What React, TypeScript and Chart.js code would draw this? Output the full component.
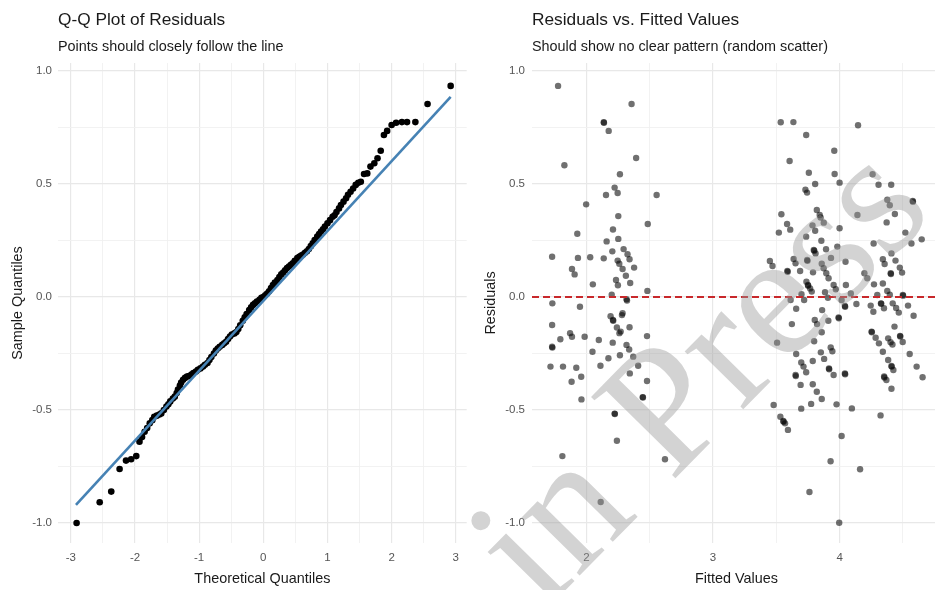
import React, { useEffect, useRef } from "react";
import { Chart, registerables } from "chart.js";

Chart.register(...registerables);

// ---------- Q-Q plot data ----------
const qqTheoretical = [
  -2.91, -2.55, -2.37, -2.24, -2.14, -2.06, -1.98, -1.93, -1.89, -1.85, -1.81, -1.77, -1.73, -1.7, -1.66, -1.62,
  -1.59, -1.55, -1.51, -1.48, -1.45, -1.41, -1.38, -1.35, -1.33, -1.3, -1.28, -1.25, -1.22, -1.19, -1.16, -1.12,
  -1.09, -1.05, -1.02, -0.98, -0.94, -0.91, -0.87, -0.84, -0.81, -0.77, -0.74, -0.71, -0.68, -0.64, -0.61, -0.58,
  -0.55, -0.52, -0.49, -0.45, -0.42, -0.39, -0.36, -0.32, -0.29, -0.26, -0.22, -0.19, -0.16, -0.13, -0.1, -0.06,
  -0.03, 0.0, 0.03, 0.06, 0.09, 0.12, 0.15, 0.18, 0.22, 0.25, 0.28, 0.31, 0.34, 0.37, 0.4, 0.43, 0.46, 0.49, 0.53,
  0.56, 0.59, 0.62, 0.65, 0.68, 0.71, 0.74, 0.77, 0.8, 0.84, 0.87, 0.9, 0.93, 0.96, 1.0, 1.04, 1.08, 1.11, 1.14,
  1.18, 1.21, 1.25, 1.29, 1.32, 1.36, 1.4, 1.44, 1.48, 1.52, 1.57, 1.62, 1.67, 1.73, 1.78, 1.83, 1.88, 1.93, 2.0,
  2.07, 2.16, 2.24, 2.37, 2.56, 2.92,
];
const qqSample = [
  -1.0, -0.908, -0.861, -0.761, -0.724, -0.718, -0.704, -0.64, -0.62, -0.596, -0.58, -0.559, -0.545, -0.53, -0.525,
  -0.52, -0.515, -0.5, -0.485, -0.475, -0.462, -0.449, -0.441, -0.425, -0.41, -0.392, -0.378, -0.366, -0.358, -0.352,
  -0.35, -0.343, -0.336, -0.33, -0.322, -0.316, -0.308, -0.3, -0.292, -0.279, -0.266, -0.25, -0.237, -0.228, -0.22,
  -0.212, -0.205, -0.198, -0.186, -0.175, -0.166, -0.161, -0.155, -0.142, -0.125, -0.105, -0.09, -0.075, -0.058,
  -0.046, -0.035, -0.028, -0.02, -0.012, -0.004, 0.0, 0.008, 0.015, 0.025, 0.04, 0.053, 0.064, 0.075, 0.088, 0.1,
  0.108, 0.118, 0.128, 0.135, 0.142, 0.149, 0.16, 0.172, 0.178, 0.183, 0.188, 0.196, 0.202, 0.212, 0.225, 0.238,
  0.252, 0.267, 0.278, 0.29, 0.3, 0.312, 0.326, 0.34, 0.355, 0.362, 0.376, 0.392, 0.407, 0.422, 0.437, 0.452, 0.466,
  0.48, 0.496, 0.505, 0.51, 0.544, 0.547, 0.577, 0.592, 0.614, 0.647, 0.717, 0.735, 0.761, 0.771, 0.774, 0.774,
  0.774, 0.854, 0.934,
];
const qqLineX = [-2.92, 2.92];
const qqLineY = [-0.92, 0.886];

// ---------- Residuals vs fitted data: [fitted, residual] ----------
const residualPoints: [number, number][] = [
  // left cluster
  [1.775, 0.934], [2.356, 0.854], [2.136, 0.773], [2.138, 0.771], [2.175, 0.735], [1.825, 0.583], [2.392, 0.615],
  [2.264, 0.543], [2.222, 0.484], [2.154, 0.451], [2.246, 0.46], [2.554, 0.451], [1.997, 0.41], [2.251, 0.358],
  [2.484, 0.323], [1.927, 0.28], [2.209, 0.299], [2.159, 0.246], [2.251, 0.257], [1.728, 0.178], [1.932, 0.173],
  [2.029, 0.176], [2.136, 0.171], [2.204, 0.202], [2.293, 0.212], [2.324, 0.189], [2.34, 0.167], [2.246, 0.161],
  [2.259, 0.147], [2.285, 0.124], [2.376, 0.13], [1.885, 0.124], [1.906, 0.1], [2.311, 0.094], [2.233, 0.075],
  [2.248, 0.052], [2.05, 0.056], [2.345, 0.062], [2.481, 0.027], [2.199, 0.01], [2.316, -0.01], [2.32, -0.016],
  [1.73, -0.028], [1.948, -0.043], [1.728, -0.124], [2.19, -0.085], [2.209, -0.102], [2.211, -0.105], [2.285, -0.072],
  [2.28, -0.08], [2.24, -0.135], [2.26, -0.16], [2.27, -0.153], [2.34, -0.134], [2.478, -0.173], [1.728, -0.22],
  [1.73, -0.224], [1.793, -0.187], [1.87, -0.16], [1.885, -0.176], [1.985, -0.176], [2.097, -0.19], [2.207, -0.202],
  [2.316, -0.212], [2.337, -0.232], [2.047, -0.242], [1.715, -0.308], [1.814, -0.308], [1.919, -0.313],
  [1.958, -0.353], [1.882, -0.375], [2.11, -0.304], [2.173, -0.271], [2.264, -0.258], [2.369, -0.264],
  [2.408, -0.304], [2.342, -0.338], [2.478, -0.372], [1.96, -0.453], [2.444, -0.443], [2.446, -0.445],
  [2.222, -0.516], [2.224, -0.518], [2.24, -0.636], [1.809, -0.704], [2.62, -0.718], [2.112, -0.907],
  // right cluster, upper half
  [3.535, 0.773], [3.635, 0.774], [3.736, 0.717], [4.146, 0.76], [3.958, 0.647], [3.605, 0.602], [3.757, 0.55],
  [3.961, 0.544], [3.807, 0.5], [4.0, 0.506], [3.73, 0.475], [3.743, 0.462], [4.261, 0.543], [4.308, 0.497],
  [4.408, 0.497], [4.377, 0.43], [4.397, 0.406], [4.578, 0.425], [4.58, 0.422], [4.437, 0.367], [4.372, 0.33],
  [4.141, 0.363], [3.54, 0.366], [3.585, 0.323], [3.61, 0.298], [3.52, 0.285], [3.82, 0.385], [3.843, 0.363],
  [3.85, 0.352], [3.875, 0.329], [3.786, 0.317], [3.807, 0.293], [4.0, 0.304], [3.736, 0.267], [3.856, 0.249],
  [3.796, 0.208], [3.8, 0.205], [3.81, 0.193], [3.893, 0.211], [3.982, 0.223], [3.744, 0.164], [3.746, 0.16],
  [3.637, 0.168], [3.652, 0.149], [3.449, 0.159], [3.47, 0.137], [3.587, 0.115], [3.59, 0.112], [3.688, 0.115],
  [3.79, 0.109], [3.859, 0.147], [3.874, 0.127], [3.895, 0.105], [3.913, 0.083], [3.932, 0.173], [4.047, 0.156],
  [3.738, 0.068], [3.75, 0.053], [3.752, 0.05], [3.767, 0.038], [3.78, 0.024], [3.953, 0.053], [3.97, 0.034],
  [4.05, 0.053], [3.885, 0.021], [3.699, 0.012], [3.908, -0.003], [4.089, 0.016], [4.269, 0.237], [4.342, 0.167],
  [4.356, 0.146], [4.41, 0.193], [4.442, 0.161], [4.476, 0.13], [4.494, 0.108], [4.404, 0.105], [4.406, 0.102],
  [4.52, 0.285], [4.568, 0.237], [4.649, 0.255], [4.196, 0.105], [4.219, 0.083], [4.272, 0.056], [4.342, 0.06],
  [4.298, 0.009], [4.377, 0.027], [4.397, 0.01], [4.5, 0.009], [4.502, 0.006],
  // right cluster, lower half
  [3.613, -0.013], [3.657, -0.052], [3.72, -0.013], [4.016, -0.013], [4.133, -0.031], [4.042, -0.04],
  [4.044, -0.043], [3.862, -0.058], [3.623, -0.12], [3.804, -0.102], [3.822, -0.12], [3.911, -0.105],
  [3.992, -0.09], [3.994, -0.094], [3.859, -0.156], [3.799, -0.196], [3.506, -0.202], [3.657, -0.252],
  [3.852, -0.245], [3.878, -0.274], [3.93, -0.223], [3.943, -0.24], [3.788, -0.283], [3.697, -0.29],
  [3.715, -0.308], [3.736, -0.333], [3.652, -0.345], [3.654, -0.35], [3.916, -0.316], [3.918, -0.32],
  [3.953, -0.345], [4.042, -0.338], [4.044, -0.342], [3.692, -0.389], [3.788, -0.386], [3.82, -0.419],
  [3.859, -0.451], [3.775, -0.473], [3.697, -0.494], [3.976, -0.475], [4.097, -0.493], [3.479, -0.478],
  [3.532, -0.53], [3.555, -0.549], [3.558, -0.552], [3.569, -0.559], [3.592, -0.588], [4.016, -0.615],
  [4.324, -0.524], [3.929, -0.727], [4.162, -0.762], [3.762, -0.863], [3.997, -0.999], [4.246, -0.038],
  [4.267, -0.065], [4.327, -0.028], [4.329, -0.03], [4.351, -0.05], [4.42, -0.028], [4.447, -0.049],
  [4.468, -0.069], [4.541, -0.038], [4.585, -0.083], [4.253, -0.153], [4.255, -0.156], [4.285, -0.18],
  [4.311, -0.205], [4.342, -0.242], [4.384, -0.183], [4.403, -0.2], [4.418, -0.21], [4.434, -0.131],
  [4.478, -0.172], [4.48, -0.175], [4.499, -0.199], [4.384, -0.279], [4.41, -0.305], [4.412, -0.308],
  [4.425, -0.323], [4.352, -0.352], [4.354, -0.356], [4.37, -0.367], [4.41, -0.406], [4.554, -0.252],
  [4.609, -0.308], [4.656, -0.355],
];
const zeroLineY = 0;

// ---------- axis ranges ----------
const yRange = [-1.0885, 1.0354];
const qqXRange = [-3.2, 3.17];
const fittedXRange = [1.569, 4.8];

// ---------- texts ----------
const qqTitle = "Q-Q Plot of Residuals";
const qqSubtitle = "Points should closely follow the line";
const qqXLabel = "Theoretical Quantiles";
const qqYLabel = "Sample Quantiles";
const rvTitle = "Residuals vs. Fitted Values";
const rvSubtitle = "Should show no clear pattern (random scatter)";
const rvXLabel = "Fitted Values";
const rvYLabel = "Residuals";
const watermark = "in Press";

const SANS = "'Liberation Sans', Arial, Helvetica, sans-serif";
const SERIF = "'Liberation Serif', 'Times New Roman', 'DejaVu Serif', serif";

const isMajor = (v: number, step: number) => Math.abs(v / step - Math.round(v / step)) < 1e-6;

function textPlugin(cfg: { title: string; subtitle: string; xLabel: string; yLabel: string; yLabelX: number }) {
  return {
    id: "texts",
    afterDraw(chart: any) {
      const { ctx, chartArea } = chart;
      ctx.save();
      ctx.fillStyle = "#1a1a1a";
      ctx.textAlign = "left";
      ctx.textBaseline = "alphabetic";
      ctx.font = `17.3px ${SANS}`;
      ctx.fillText(cfg.title, chartArea.left, 25);
      ctx.font = `14.4px ${SANS}`;
      ctx.fillText(cfg.subtitle, chartArea.left, 51);
      ctx.textAlign = "center";
      ctx.fillText(cfg.xLabel, (chartArea.left + chartArea.right) / 2, 583);
      ctx.translate(cfg.yLabelX, (chartArea.top + chartArea.bottom) / 2);
      ctx.rotate(-Math.PI / 2);
      ctx.fillText(cfg.yLabel, 0, 0);
      ctx.restore();
    },
  };
}

const watermarkPlugin = {
  id: "watermark",
  afterDraw(chart: any) {
    const { ctx } = chart;
    ctx.save();
    ctx.translate(72, 614);
    ctx.rotate((-45.5 * Math.PI) / 180);
    ctx.font = `179px ${SERIF}`;
    ctx.fillStyle = "rgba(150,150,150,0.42)";
    ctx.textAlign = "left";
    ctx.textBaseline = "alphabetic";
    ctx.fillText(watermark, 0, 0);
    ctx.restore();
  },
};

function makeScales(xRange: number[], padTicks = 6) {
  const gridColor = (step: number) => (c: any) => (isMajor(c.tick.value, step) ? "#e8e8e8" : "#f1f1f1");
  const gridWidth = (step: number) => (c: any) => (isMajor(c.tick.value, step) ? 1.2 : 0.9);
  return {
    x: {
      type: "linear",
      min: xRange[0],
      max: xRange[1],
      afterFit: (s: any) => {
        s.height = 30;
      },
      border: { display: false },
      grid: { color: gridColor(1), lineWidth: gridWidth(1), drawTicks: false },
      ticks: {
        stepSize: 0.5,
        includeBounds: false,
        autoSkip: false,
        maxRotation: 0,
        padding: 8,
        color: "#555555",
        font: { family: SANS, size: 11.5 },
        callback: (v: number) => (isMajor(v, 1) ? String(Math.round(v)) : ""),
      },
    },
    y: {
      type: "linear",
      min: yRange[0],
      max: yRange[1],
      afterFit: (s: any) => {
        s.width = 40;
      },
      border: { display: false },
      grid: { color: gridColor(0.5), lineWidth: gridWidth(0.5), drawTicks: false },
      ticks: {
        stepSize: 0.25,
        includeBounds: false,
        autoSkip: false,
        padding: padTicks,
        color: "#555555",
        font: { family: SANS, size: 11.5 },
        callback: (v: number) => (isMajor(v, 0.5) ? (Math.abs(v) < 1e-9 ? "0.0" : v.toFixed(1)) : ""),
      },
    },
  };
}

export default function App() {
  const leftRef = useRef<HTMLCanvasElement>(null);
  const rightRef = useRef<HTMLCanvasElement>(null);

  useEffect(() => {
    const qqData = qqTheoretical.map((x, i) => ({ x, y: qqSample[i] }));
    const left = new Chart(leftRef.current!, {
      type: "scatter",
      data: {
        datasets: [
          {
            type: "line",
            data: qqLineX.map((x, i) => ({ x, y: qqLineY[i] })),
            borderColor: "#4682b4",
            borderWidth: 2.6,
            pointRadius: 0,
            order: 0,
          } as any,
          {
            data: qqData,
            backgroundColor: "#000000",
            borderWidth: 0,
            pointRadius: 3.3,
            pointHoverRadius: 3.3,
            order: 1,
          },
        ],
      },
      options: {
        responsive: false,
        animation: false,
        events: [],
        layout: { padding: { left: 18, right: 2, top: 63, bottom: 17 } },
        plugins: { legend: { display: false }, tooltip: { enabled: false } },
        scales: makeScales(qqXRange) as any,
      },
      plugins: [textPlugin({ title: qqTitle, subtitle: qqSubtitle, xLabel: qqXLabel, yLabel: qqYLabel, yLabelX: 22 })],
    });

    const right = new Chart(rightRef.current!, {
      type: "scatter",
      data: {
        datasets: [
          {
            type: "line",
            data: [
              { x: fittedXRange[0], y: zeroLineY },
              { x: fittedXRange[1], y: zeroLineY },
            ],
            borderColor: "#c8282b",
            borderWidth: 1.8,
            borderDash: [7, 4],
            pointRadius: 0,
            order: 0,
          } as any,
          {
            data: residualPoints.map(([x, y]) => ({ x, y })),
            backgroundColor: "rgba(0,0,0,0.56)",
            borderWidth: 0,
            pointRadius: 3.2,
            pointHoverRadius: 3.2,
            order: 1,
          },
        ],
      },
      options: {
        responsive: false,
        animation: false,
        events: [],
        layout: { padding: { left: 22, right: 0, top: 63, bottom: 17 } },
        plugins: { legend: { display: false }, tooltip: { enabled: false } },
        scales: makeScales(fittedXRange, 7) as any,
      },
      plugins: [
        textPlugin({ title: rvTitle, subtitle: rvSubtitle, xLabel: rvXLabel, yLabel: rvYLabel, yLabelX: 25 }),
        watermarkPlugin,
      ],
    });

    return () => {
      left.destroy();
      right.destroy();
    };
  }, []);

  return (
    <div
      style={{
        position: "absolute",
        left: 0,
        top: 0,
        width: 935,
        height: 590,
        overflow: "hidden",
        background: "#ffffff",
      }}
    >
      <canvas
        ref={leftRef}
        width={470}
        height={590}
        style={{ position: "absolute", left: 0, top: 0, width: 470, height: 590 }}
      />
      <canvas
        ref={rightRef}
        width={474}
        height={590}
        style={{ position: "absolute", left: 470, top: 0, width: 474, height: 590 }}
      />
    </div>
  );
}
